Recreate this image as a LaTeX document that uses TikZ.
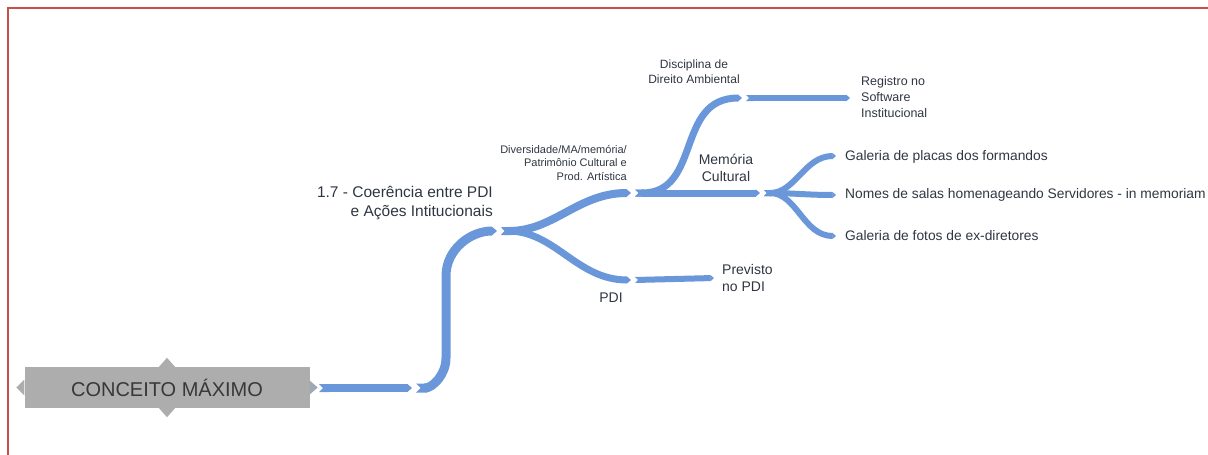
\documentclass[tikz,border=0pt]{standalone}
\usepackage{fontspec}
\setmainfont{Liberation Sans}
\usetikzlibrary{arrows.meta}
\definecolor{mapblue}{RGB}{106,150,218}
\definecolor{rootgray}{RGB}{173,173,173}
\definecolor{txt}{RGB}{47,54,66}
\definecolor{frame}{RGB}{200,80,74}
\newcommand\fsz[2]{\fontsize{#1}{#2}\selectfont}
\tikzset{
  branch/.style={draw=mapblue, line width=#1,
    {Triangle Cap[reversed]}-{Triangle[length=0pt 0.6,width=0pt 1]}},
  branch/.default=7pt,
  lbl/.style={inner sep=0pt, text=txt},
  leaf/.style={lbl, anchor=west, font=\fsz{13.8}{16}},
  rootbox/.style={fill=rootgray, minimum width=285pt, minimum height=41pt,
    inner sep=0pt, text=black!78, font=\fsz{20}{24}},
}
\begin{document}
\begin{tikzpicture}[x=1pt,y=-1pt]
\useasboundingbox (0,0) rectangle (1208,455);
% frame
\draw[frame, line width=2pt] (8,455) -- (8,7.5) -- (1208,7.5);

% central topic with its four small points
\node[rootbox] (root) at (167,387.5) {CONCEITO MÁXIMO};
\fill[rootgray] ([xshift=-8pt]root.north) -- ([yshift=9pt]root.north) -- ([xshift=8pt]root.north) -- cycle;
\fill[rootgray] ([xshift=-8pt]root.south) -- ([yshift=-9pt]root.south) -- ([xshift=8pt]root.south) -- cycle;
\fill[rootgray] ([yshift=-8pt]root.west) -- ([xshift=-8pt]root.west) -- ([yshift=8pt]root.west) -- cycle;
\fill[rootgray!80!mapblue] ([yshift=-7pt]root.east) -- ([xshift=8pt]root.east) -- ([yshift=7pt]root.east) -- cycle;

% junction points
\coordinate (r0) at (319,388);
\coordinate (t0) at (412,388);
\coordinate (t1) at (416,388);
\coordinate (s1) at (497,231);
\coordinate (s2) at (501,231);
\coordinate (u1) at (631,193);
\coordinate (u2) at (635,193);
\coordinate (p1) at (631,280);
\coordinate (p2) at (635,280);
\coordinate (pe) at (714,278);
\coordinate (d1) at (742,98);
\coordinate (d2) at (746,98);
\coordinate (de) at (850,98);
\coordinate (m1) at (760,193);
\coordinate (m2) at (764,193);
\coordinate (g1) at (836,156);
\coordinate (g2) at (836,195);
\coordinate (g3) at (836,236);

% connectors
\draw[branch=8pt] (r0) -- (t0);
\draw[branch=9pt] (t1) to[out=0,in=-90] (446,358) -- (446,276) to[out=90,in=180] (s1);
\draw[branch=8pt] (s2) to[out=0,in=180] (u1);
\draw[branch=7pt] (s2) to[out=0,in=180] (p1);
\draw[branch=6pt] (p2) -- (pe);
\draw[branch=7pt] (u2) to[out=0,in=180,looseness=1.2] (d1);
\draw[branch=7pt] (u2) -- (m1);
\draw[branch=6pt] (d2) -- (de);
\draw[branch=6pt] (m2) to[out=0,in=180] (g1);
\draw[branch=6pt] (m2) to[out=0,in=180] (g2);
\draw[branch=6pt] (m2) to[out=0,in=180] (g3);

% labels
\node[lbl, anchor=east, align=right, font=\fsz{15.5}{19}] (coer) at (493,203)
  {1.7 - Coerência entre PDI\\e Ações Intitucionais};
\node[lbl, anchor=east, align=right, font=\fsz{11}{13.5}] (div) at (627,163)
  {Diversidade/MA/memória/\\Patrimônio Cultural e\\Prod. Artística};
\node[lbl, font=\fsz{14}{17}] (pdi) at (611,298) {PDI};
\node[lbl, anchor=west, align=left, font=\fsz{14}{16.5}] (prev) at (722,278) {Previsto\\no PDI};
\node[lbl, align=center, font=\fsz{12}{15}] (disc) at (694,72) {Disciplina de\\Direito Ambiental};
\node[lbl, anchor=west, align=left, font=\fsz{12.5}{16}] (reg) at (861,97) {Registro no\\Software\\Institucional};
\node[lbl, align=center, font=\fsz{14}{17}] (mem) at (726,168) {Memória\\Cultural};
\node[leaf] (gal1) at (845,157) {Galeria de placas dos formandos};
\node[leaf] (nomes) at (845,195) {Nomes de salas homenageando Servidores - in memoriam};
\node[leaf] (gal2) at (845,236) {Galeria de fotos de ex-diretores};
\end{tikzpicture}
\end{document}
